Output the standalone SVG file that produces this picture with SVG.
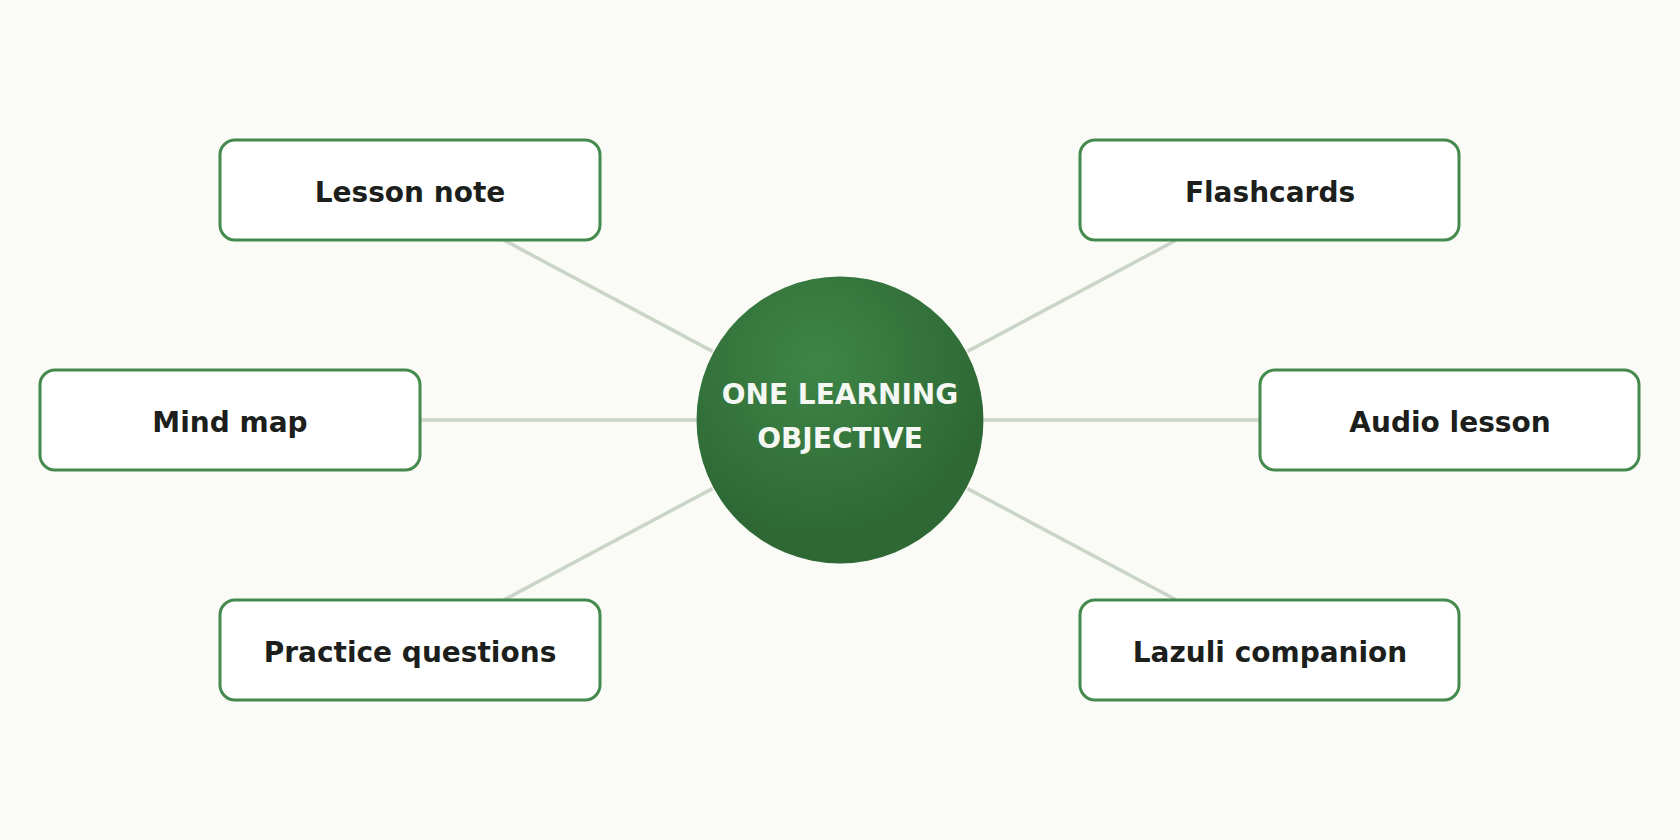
<svg xmlns="http://www.w3.org/2000/svg" width="1680" height="840" viewBox="0 0 1680 840">
<style>
.box{fill:#fff;stroke:#438a4c;stroke-width:3}
.lbl{font-family:"DejaVu Sans",sans-serif;font-weight:bold;font-size:28px;fill:#1c1f1c;text-anchor:middle}
.ctr{font-family:"DejaVu Sans",sans-serif;font-weight:bold;font-size:28px;fill:#f4f7f2;text-anchor:middle}
.con{stroke:#c9d5c7;stroke-width:3.5;fill:none}
</style>
<defs>
<radialGradient id="g" cx="0.42" cy="0.3" r="0.6">
<stop offset="0" stop-color="#3e8547"/>
<stop offset="1" stop-color="#2e6935"/>
</radialGradient>
</defs>
<rect width="1680" height="840" fill="#fafaf7"/>
<g id="connectors">
<line class="con" x1="503.6" y1="240" x2="712.5" y2="351.4"/>
<line class="con" x1="1176.4" y1="240" x2="967.5" y2="351.4"/>
<line class="con" x1="420" y1="420" x2="696" y2="420"/>
<line class="con" x1="984" y1="420" x2="1260" y2="420"/>
<line class="con" x1="503.6" y1="600" x2="712.5" y2="488.6"/>
<line class="con" x1="1176.4" y1="600" x2="967.5" y2="488.6"/>
</g>
<g id="center">
<circle cx="840" cy="420" r="143.5" fill="url(#g)"/>
<text class="ctr" x="840" y="404">ONE LEARNING</text>
<text class="ctr" x="840" y="448">OBJECTIVE</text>
</g>
<g id="lesson-note"><rect class="box" x="220" y="140" width="380" height="100" rx="15"/><text class="lbl" x="410" y="202">Lesson note</text></g>
<g id="flashcards"><rect class="box" x="1080" y="140" width="379" height="100" rx="15"/><text class="lbl" x="1270" y="202">Flashcards</text></g>
<g id="mind-map"><rect class="box" x="40" y="370" width="380" height="100" rx="15"/><text class="lbl" x="230" y="432">Mind map</text></g>
<g id="audio-lesson"><rect class="box" x="1260" y="370" width="379" height="100" rx="15"/><text class="lbl" x="1450" y="432">Audio lesson</text></g>
<g id="practice-questions"><rect class="box" x="220" y="600" width="380" height="100" rx="15"/><text class="lbl" x="410" y="662">Practice questions</text></g>
<g id="lazuli-companion"><rect class="box" x="1080" y="600" width="379" height="100" rx="15"/><text class="lbl" x="1270" y="662">Lazuli companion</text></g>
</svg>
